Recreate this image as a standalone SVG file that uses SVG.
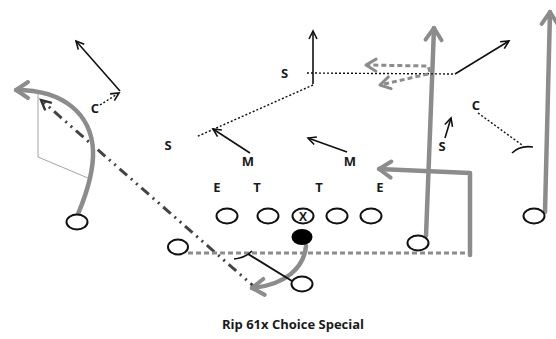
<svg xmlns="http://www.w3.org/2000/svg" width="556" height="339" viewBox="0 0 556 339">
  <style>
    .lbl { font-family: "Open Sans", "Liberation Sans", sans-serif; font-weight: bold; font-size: 13px; fill: #1a1a1a; text-anchor: middle; }
    .title { font-family: "Open Sans", "Liberation Sans", sans-serif; font-weight: bold; font-size: 13px; fill: #1a1a1a; }
    .player { fill: #fff; stroke: #111; stroke-width: 2; }
    .route { fill: none; stroke: #8c8c8c; stroke-width: 4.5; stroke-linecap: round; stroke-linejoin: round; }
    .route-dash { fill: none; stroke: #8c8c8c; stroke-width: 3; stroke-dasharray: 5 3; }
    .def { fill: none; stroke: #111; stroke-width: 1.6; }
    .def-dot { fill: none; stroke: #111; stroke-width: 1.4; stroke-dasharray: 2 2; }
    .pitch { fill: none; stroke: #444; stroke-width: 3; stroke-dasharray: 10 5 2 5 2 5; }
    .guide { fill: none; stroke: #9a9a9a; stroke-width: 0.9; }
  </style>
  <defs>
    <marker id="ah-gray" markerUnits="userSpaceOnUse" viewBox="0 0 18 20" markerWidth="18" markerHeight="20" refX="15" refY="10" orient="auto" overflow="visible">
      <path d="M3,2 L15,10 L3,18" fill="none" stroke="#8c8c8c" stroke-width="4" stroke-linecap="round" stroke-linejoin="round"/>
    </marker>
    <marker id="ah-gray-sm" markerUnits="userSpaceOnUse" viewBox="0 0 14 16" markerWidth="14" markerHeight="16" refX="12" refY="8" orient="auto" overflow="visible">
      <path d="M2,2 L12,8 L2,14" fill="none" stroke="#8c8c8c" stroke-width="3" stroke-linecap="round" stroke-linejoin="round"/>
    </marker>
    <marker id="ah-black" markerUnits="userSpaceOnUse" viewBox="0 0 10 10" markerWidth="10" markerHeight="10" refX="9" refY="5" orient="auto" overflow="visible">
      <path d="M1,1 L9,5 L1,9" fill="none" stroke="#111" stroke-width="1.6"/>
    </marker>
    <marker id="ah-dark" markerUnits="userSpaceOnUse" viewBox="0 0 12 12" markerWidth="12" markerHeight="12" refX="11" refY="6" orient="auto" overflow="visible">
      <path d="M1,1 L11,6 L1,11" fill="none" stroke="#333" stroke-width="2.4"/>
    </marker>
  </defs>

  <rect width="556" height="339" fill="#fff"/>

  <!-- routes, reads and blocks -->
  <g id="connectors">
    <!-- thin guide lines on the left -->
    <path class="guide" d="M38,92 L38,157 L88,178"/>
    <!-- pitch lane (dash-dot) -->
    <path class="pitch" d="M258,290 L41,100" marker-end="url(#ah-dark)"/>
    <!-- left wide receiver route -->
    <path class="route" d="M78,214 C86,195 94,172 93,150 C91,115 65,90 16,90" marker-end="url(#ah-gray)"/>
    <!-- slot vertical -->
    <path class="route" d="M426,236 L434,28" marker-end="url(#ah-gray)"/>
    <!-- far right vertical -->
    <path class="route" d="M545,212 L550,12" marker-end="url(#ah-gray)"/>
    <!-- back motion then route -->
    <path class="route-dash" d="M188,253 L468,253"/>
    <path class="route" d="M470,255 L470,173 L379,169" marker-end="url(#ah-gray)"/>
    <!-- quarterback path -->
    <path class="route" d="M306,246 C304,268 285,285 252,288" marker-end="url(#ah-gray)"/>
    <!-- lead block -->
    <path d="M292,281 L248,254" fill="none" stroke="#111" stroke-width="2"/>
    <path d="M234,259 Q245,258 252,251" fill="none" stroke="#111" stroke-width="1.6"/>

    <!-- deep safety reads -->
    <path class="def" d="M313,84 L313,31" marker-end="url(#ah-black)"/>
    <path class="def-dot" d="M313,85 L196,137"/>
    <path class="def-dot" d="M307,73 L455,74"/>
    <path class="def" d="M455,74 L509,41" marker-end="url(#ah-black)"/>
    <!-- gray rotation arrows -->
    <path class="route-dash" d="M430,72 L428,66 L366,65" marker-end="url(#ah-gray-sm)"/>
    <path class="route-dash" d="M428,74 L380,85" marker-end="url(#ah-gray-sm)"/>

    <!-- linebacker drops -->
    <path class="def" d="M250,153 L213,129" marker-end="url(#ah-black)"/>
    <path class="def" d="M347,152 L308,138" marker-end="url(#ah-black)"/>

    <!-- left corner -->
    <path class="def-dot" d="M100,105 L119,93" marker-end="url(#ah-black)"/>
    <path class="def" d="M120,91 L76,41" marker-end="url(#ah-black)"/>

    <!-- right corner -->
    <path class="def-dot" d="M478,113 L522,145"/>
    <path d="M512,153 Q520,145 533,147" fill="none" stroke="#111" stroke-width="1.6"/>

    <!-- right safety -->
    <path class="def" d="M445,138 L451,118" marker-end="url(#ah-black)"/>
  </g>

  <!-- defense -->
  <g id="def-s-deep"><text class="lbl" x="284.5" y="78">S</text></g>
  <g id="def-s-left"><text class="lbl" x="168" y="150">S</text></g>
  <g id="def-m-left"><text class="lbl" x="248" y="166">M</text></g>
  <g id="def-m-right"><text class="lbl" x="350" y="166">M</text></g>
  <g id="def-e-left"><text class="lbl" x="217" y="192">E</text></g>
  <g id="def-t-left"><text class="lbl" x="257" y="192">T</text></g>
  <g id="def-t-right"><text class="lbl" x="319" y="192">T</text></g>
  <g id="def-e-right"><text class="lbl" x="380" y="192">E</text></g>
  <g id="def-c-left"><text class="lbl" x="95" y="113">C</text></g>
  <g id="def-c-right"><text class="lbl" x="476" y="110">C</text></g>
  <g id="def-s-right"><text class="lbl" x="442" y="151">S</text></g>

  <!-- offense -->
  <g id="lt"><ellipse class="player" cx="227" cy="216" rx="10.5" ry="7.5"/></g>
  <g id="lg"><ellipse class="player" cx="268" cy="216" rx="10.5" ry="7.5"/></g>
  <g id="center">
    <ellipse class="player" cx="303" cy="216" rx="10.5" ry="7.5"/>
    <text class="lbl" x="303" y="221" style="font-size:12px">X</text>
  </g>
  <g id="rg"><ellipse class="player" cx="337" cy="216" rx="10.5" ry="7.5"/></g>
  <g id="rt"><ellipse class="player" cx="371" cy="216" rx="10.5" ry="7.5"/></g>
  <g id="qb"><ellipse cx="302" cy="237" rx="10.5" ry="8" fill="#000"/></g>
  <g id="wing"><ellipse class="player" cx="178" cy="247" rx="10" ry="7.5"/></g>
  <g id="back"><ellipse class="player" cx="302" cy="284" rx="10.5" ry="7.5"/></g>
  <g id="wr-left"><ellipse class="player" cx="77" cy="222" rx="10.5" ry="7.5"/></g>
  <g id="slot"><ellipse class="player" cx="418" cy="243" rx="10.5" ry="7.5"/></g>
  <g id="wr-right"><ellipse class="player" cx="534" cy="216" rx="10.5" ry="7.5"/></g>

  <text class="title" x="222" y="329">Rip 61x Choice Special</text>
</svg>
